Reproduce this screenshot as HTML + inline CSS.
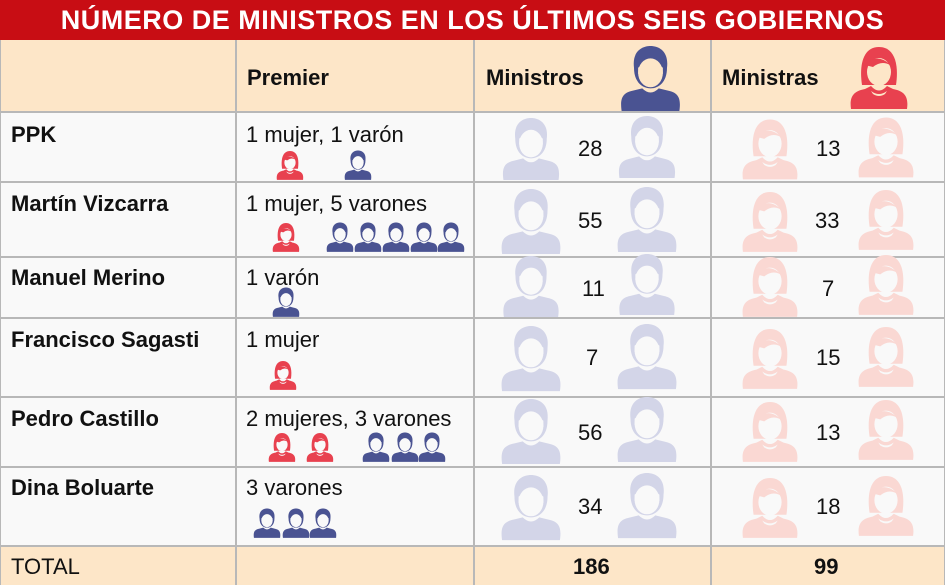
<!DOCTYPE html>
<html><head><meta charset="utf-8"><style>
body{margin:0;width:945px;height:585px;background:#f9f9f9;position:relative;overflow:hidden;font-family:"Liberation Sans",sans-serif;}
.a{position:absolute}
.t{color:#111;font-size:22px;white-space:nowrap}
.b{font-weight:bold}
.hl{position:absolute;height:2px;background:#b8b8b8;left:0;width:945px}
.vl{position:absolute;width:2px;background:#b8b8b8;top:40px;height:545px}
svg.i{position:absolute}
</style></head><body>
<div class="a" style="left:0;top:0;width:945px;height:40px;background:#c80d14;color:#fff;font-weight:bold;font-size:27px;text-align:center;line-height:40px;letter-spacing:0.5px">NÚMERO DE MINISTROS EN LOS ÚLTIMOS SEIS GOBIERNOS</div>
<div class="a" style="left:0;top:40px;width:945px;height:72px;background:#fde6c8"></div>
<div class="a" style="left:0;top:546px;width:945px;height:39px;background:#fde6c8"></div>
<div class="hl" style="top:111px"></div><div class="hl" style="top:181px"></div><div class="hl" style="top:256px"></div><div class="hl" style="top:317px"></div><div class="hl" style="top:396px"></div><div class="hl" style="top:466px"></div><div class="hl" style="top:545px"></div>
<div class="vl" style="left:235px"></div><div class="vl" style="left:473px"></div><div class="vl" style="left:710px"></div>
<div class="vl" style="left:0;width:1px"></div><div class="vl" style="left:944px;width:1px"></div>

<div class="a t b" style="left:247px;top:65px">Premier</div>
<div class="a t b" style="left:486px;top:65px">Ministros</div>
<div class="a t b" style="left:722px;top:65px">Ministras</div>

<div class="a t b" style="left:11px;top:122px">PPK</div>
<div class="a t b" style="left:11px;top:191px">Martín Vizcarra</div>
<div class="a t b" style="left:11px;top:265px">Manuel Merino</div>
<div class="a t b" style="left:11px;top:327px">Francisco Sagasti</div>
<div class="a t b" style="left:11px;top:406px">Pedro Castillo</div>
<div class="a t b" style="left:11px;top:475px">Dina Boluarte</div>
<div class="a t" style="left:11px;top:554px">TOTAL</div>

<div class="a t" style="left:246px;top:122px">1 mujer, 1 varón</div>
<div class="a t" style="left:246px;top:191px">1 mujer, 5 varones</div>
<div class="a t" style="left:246px;top:265px">1 varón</div>
<div class="a t" style="left:246px;top:327px">1 mujer</div>
<div class="a t" style="left:246px;top:406px">2 mujeres, 3 varones</div>
<div class="a t" style="left:246px;top:475px">3 varones</div>

<div class="a t" style="left:578px;top:136px">28</div><div class="a t" style="left:816px;top:136px">13</div>
<div class="a t" style="left:578px;top:208px">55</div><div class="a t" style="left:815px;top:208px">33</div>
<div class="a t" style="left:582px;top:276px">11</div><div class="a t" style="left:822px;top:276px">7</div>
<div class="a t" style="left:586px;top:345px">7</div><div class="a t" style="left:816px;top:345px">15</div>
<div class="a t" style="left:578px;top:420px">56</div><div class="a t" style="left:816px;top:420px">13</div>
<div class="a t" style="left:578px;top:494px">34</div><div class="a t" style="left:816px;top:494px">18</div>
<div class="a t b" style="left:573px;top:554px">186</div>
<div class="a t b" style="left:814px;top:554px">99</div>

<div id="ic"></div>
<script>
function m(x,y,w,h,c,bg){return '<svg class="i" style="left:'+x+'px;top:'+y+'px" width="'+w+'" height="'+h+'" viewBox="0 0 60 64"><path fill="'+c+'" d="M14 22 C12 6 22 1 30 1 C38 1 48 6 46 22 C46 36 38 42 30 42 C22 42 14 36 14 22Z"/><ellipse cx="30" cy="27" rx="12" ry="14" fill="'+bg+'"/><path fill="'+bg+'" d="M18 22 Q30 12 42 22 L42 28 L18 28Z"/><path fill="'+c+'" d="M2 64 C0 50 4 46 14 44 L22 42 Q30 50 38 42 L46 44 C56 46 60 50 58 64Z"/></svg>';}
function f(x,y,w,h,c,bg){return '<svg class="i" style="left:'+x+'px;top:'+y+'px" width="'+w+'" height="'+h+'" viewBox="0 0 60 64"><path fill="'+c+'" d="M13 40 C10 20 14 2 30 2 C46 2 50 20 47 40Z"/><ellipse cx="30" cy="27" rx="12" ry="14" fill="'+bg+'"/><path fill="'+c+'" d="M16 20 Q28 6 44 22 Q34 14 24 22Z"/><path fill="'+c+'" d="M2 64 C0 50 6 46 16 44 L22 41 Q30 50 38 41 L44 44 C54 46 60 50 58 64Z"/><path fill="'+bg+'" d="M22 46 Q30 52 38 46 L36 49 Q30 53 24 49Z"/></svg>';}
var s='',B='#4a5392',R='#e8414f',LB='#d3d5e8',LR='#fad8d3',bg='#f9f9f9',hb='#fde6c8';
s+=m(619,45,63,66,B,hb)+f(849,45,60,64,R,hb);
var rows=[[117,63],[188,66],[255,62],[323,70],[398,66],[472,70]];
rows.forEach(function(r){var y=r[0],h=r[1];s+=m(500,y,62,h,LB,bg)+m(616,y-2,62,h,LB,bg)+f(741,y,58,h,LR,bg)+f(857,y-2,58,h,LR,bg);});
function sm(fn,x,y){s+=fn(x,y,28,30,fn===m?B:R,bg);}
sm(f,276,150);sm(m,344,150);
sm(f,272,222);[326,354,382,410,437].forEach(function(x){sm(m,x,222)});
sm(m,272,287);sm(f,269,360);
sm(f,268,432);sm(f,306,432);[362,391,418].forEach(function(x){sm(m,x,432)});
[253,282,309].forEach(function(x){sm(m,x,508)});
document.getElementById('ic').innerHTML=s;
</script>
</body></html>
